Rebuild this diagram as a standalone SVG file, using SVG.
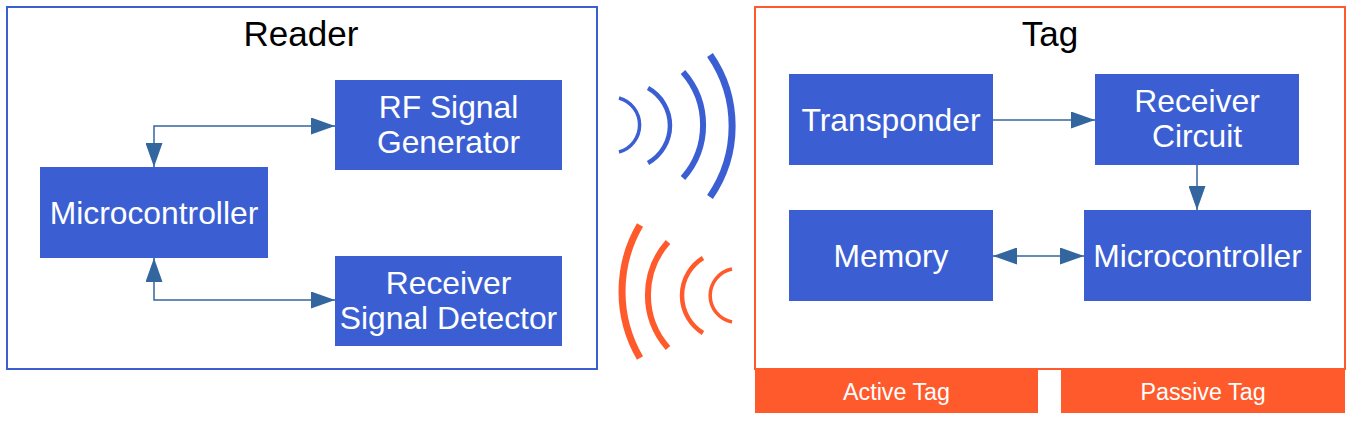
<svg xmlns="http://www.w3.org/2000/svg" width="1352" height="422" viewBox="0 0 1352 422">
<defs>
<style>
.node{fill:#3B5FD3;}
.nt{fill:#fff;font-family:"Liberation Sans",Arial,sans-serif;font-size:31.8px;text-anchor:middle;}
.title{fill:#000;font-family:"Liberation Sans",Arial,sans-serif;font-size:35px;text-anchor:middle;}
.lbl{fill:#fff;font-family:"Liberation Sans",Arial,sans-serif;font-size:23.3px;text-anchor:middle;}
.conn{fill:none;stroke:#33659F;stroke-width:1.5;}
.wb{fill:none;stroke:#3B5FD3;}
.wo{fill:none;stroke:#FF5A2C;}
</style>
<marker id="ah" viewBox="0 0 24 17" refX="24" refY="8.5" markerWidth="24" markerHeight="17" markerUnits="userSpaceOnUse" orient="auto-start-reverse">
<path d="M0,0 L24,8.5 L0,17 Z" fill="#33659F"/>
</marker>
</defs>
<rect width="1352" height="422" fill="#fff"/>

<g id="reader">
<rect x="7" y="7" width="590" height="362" fill="none" stroke="#3B5FD3" stroke-width="2"/>
<text class="title" x="301" y="46">Reader</text>
</g>
<g id="tag">
<rect x="755" y="7" width="590" height="362" fill="none" stroke="#FF5A2C" stroke-width="2"/>
<text class="title" x="1050" y="46">Tag</text>
</g>
<g id="active-tag">
<rect x="755" y="370" width="283" height="43" fill="#FF5A2C"/>
<text class="lbl" x="896.5" y="400">Active Tag</text>
</g>
<g id="passive-tag">
<rect x="1061" y="370" width="284" height="43" fill="#FF5A2C"/>
<text class="lbl" x="1203" y="400">Passive Tag</text>
</g>

<g id="reader-micro">
<rect class="node" x="40" y="167" width="228" height="91"/>
<text class="nt" x="154" y="224">Microcontroller</text>
</g>
<g id="rf-gen">
<rect class="node" x="335" y="80" width="227" height="90"/>
<text class="nt" x="448.5" y="118">RF Signal</text>
<text class="nt" x="448.5" y="153">Generator</text>
</g>
<g id="rx-detector">
<rect class="node" x="335" y="256" width="227" height="90"/>
<text class="nt" x="448.5" y="294">Receiver</text>
<text class="nt" x="448.5" y="329">Signal Detector</text>
</g>

<g id="transponder">
<rect class="node" x="789" y="74" width="204" height="91"/>
<text class="nt" x="891" y="131">Transponder</text>
</g>
<g id="rx-circuit">
<rect class="node" x="1095" y="74" width="204" height="91"/>
<text class="nt" x="1197" y="112">Receiver</text>
<text class="nt" x="1197" y="147">Circuit</text>
</g>
<g id="memory">
<rect class="node" x="789" y="210" width="204" height="91"/>
<text class="nt" x="891" y="267">Memory</text>
</g>
<g id="tag-micro">
<rect class="node" x="1084" y="210" width="227" height="91"/>
<text class="nt" x="1197.5" y="267">Microcontroller</text>
</g>

<g id="connectors">
<path class="conn" d="M154,167 L154,126 L335,126" marker-start="url(#ah)" marker-end="url(#ah)"/>
<path class="conn" d="M154,258 L154,300 L335,300" marker-start="url(#ah)" marker-end="url(#ah)"/>
<path class="conn" d="M993,120 L1095,120" marker-end="url(#ah)"/>
<path class="conn" d="M1197,165 L1197,210" marker-end="url(#ah)"/>
<path class="conn" d="M993,256 L1084,256" marker-start="url(#ah)" marker-end="url(#ah)"/>
</g>

<g id="waves-out">
<path class="wb" stroke-width="3.5" d="M619,98 A28,28 0 0 1 619,152"/>
<path class="wb" stroke-width="4.5" d="M648,88 A43,43 0 0 1 648,163"/>
<path class="wb" stroke-width="6" d="M683,72 A80,80 0 0 1 683,178"/>
<path class="wb" stroke-width="7" d="M710,55 A125,125 0 0 1 710,197"/>
</g>
<g id="waves-in">
<path class="wo" stroke-width="7" d="M640,225 A132,132 0 0 0 640,358"/>
<path class="wo" stroke-width="6" d="M668,242 A80,80 0 0 0 668,348"/>
<path class="wo" stroke-width="4.5" d="M703,258 A44,44 0 0 0 703,333"/>
<path class="wo" stroke-width="3.5" d="M732,269 A27,27 0 0 0 732,322"/>
</g>
</svg>
